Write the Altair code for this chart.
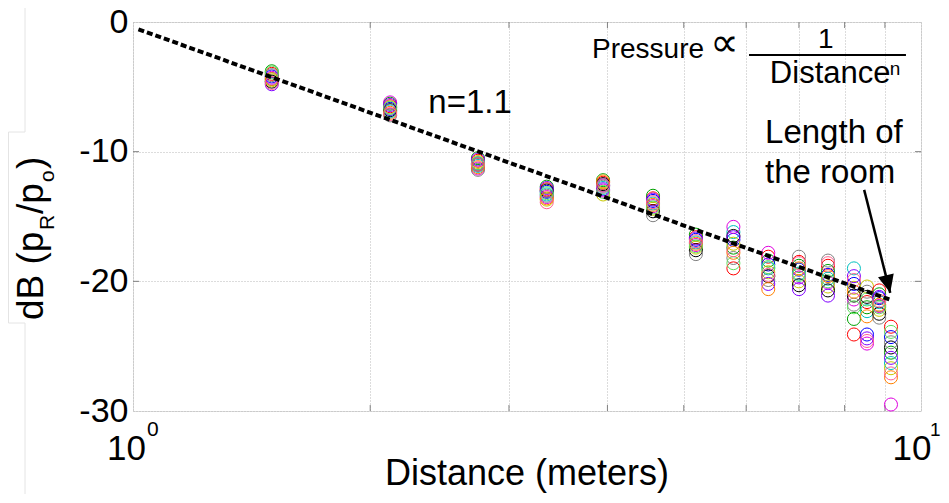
import altair as alt
import pandas as pd

# ---------------- data ----------------
distances = [1.5, 2.12, 2.74, 3.35, 3.95, 4.57, 5.18, 5.78, 6.40, 7.00, 7.62, 8.22, 8.54, 8.85, 9.16]

# one list per distance, one value per measurement run (12 runs)
db_values = [
    [-4.0, -3.8, -4.2, -4.4, -4.3, -4.5, -4.6, -4.1, -4.8, -4.4, -3.9, -4.7],
    [-6.5, -6.3, -6.7, -6.9, -6.2, -6.6, -6.8, -7.2, -6.4, -7.0, -6.6, -7.1],
    [-10.7, -10.5, -10.9, -11.1, -11.3, -10.8, -11.0, -11.4, -10.6, -11.2, -10.9, -11.0],
    [-12.9, -12.7, -13.1, -13.3, -13.5, -13.7, -13.0, -13.4, -12.8, -13.6, -13.2, -13.9],
    [-12.4, -12.2, -12.6, -12.8, -13.0, -13.3, -12.5, -12.7, -12.9, -12.3, -13.1, -12.6],
    [-13.6, -13.4, -13.8, -14.0, -14.2, -14.4, -14.6, -14.9, -13.7, -14.1, -14.3, -13.9],
    [-16.6, -16.4, -16.8, -17.0, -17.2, -17.4, -17.6, -17.9, -16.7, -17.1, -17.3, -16.9],
    [-19.0, -17.4, -16.8, -16.2, -15.8, -17.1, -16.5, -18.2, -16.6, -17.8, -18.6, -17.6],
    [-18.1, -18.4, -18.7, -19.0, -17.8, -19.3, -19.6, -19.9, -20.2, -20.6, -18.9, -19.5],
    [-18.5, -18.8, -19.1, -19.4, -19.7, -20.0, -20.3, -18.1, -20.6, -19.0, -19.5, -18.6],
    [-18.8, -19.2, -19.5, -19.8, -20.1, -20.4, -20.7, -18.4, -21.1, -19.6, -20.0, -18.6],
    [-24.1, -22.9, -20.2, -19.0, -21.4, -20.5, -21.1, -21.8, -19.6, -20.8, -22.0, -19.9],
    [-21.6, -22.0, -24.1, -22.3, -24.8, -20.4, -21.2, -20.8, -24.4, -22.7, -21.4, -24.6],
    [-20.7, -21.0, -21.3, -21.6, -21.9, -22.2, -22.5, -22.8, -21.2, -21.8, -22.0, -21.5],
    [-23.5, -25.5, -24.3, -26.3, -29.5, -26.7, -25.1, -24.7, -25.9, -27.4, -23.9, -27.1],
]

run_names = ["run %d" % (i + 1) for i in range(12)]
run_colors = ["#ff0000", "#00a000", "#0000ff", "#00c0c0", "#e000e0", "#c8c800",
              "#000000", "#808080", "#8000ff", "#ff8000", "#60e060", "#ff6090"]

# dashed fit line (n = 1.1), end points
fit_distance = [1.016, 9.15]
fit_db = [-0.56, -21.43]

# annotations (left edge, baseline) in data units
ann_text = ["n=1.1", "Pressure", "1", "Distance", "n", "Length of", "the room"]
ann_x = [2.37, 3.824, 7.40, 6.43, 9.13, 6.34, 6.34]
ann_y = [-7.0, -2.75, -2.0, -4.7, -4.05, -9.33, -12.41]
ann_size = [33, 28, 28, 31, 19, 33, 33]

prop_x = [5.40]
prop_y = [-2.6]

frac_bar_x = [6.05, 9.57]
frac_bar_y = [-2.55]

arrow_from = [8.47, -12.95]
arrow_to = [9.14, -20.89]

x_tick_values = [1, 2, 3, 4, 5, 6, 7, 8, 9, 10]
y_tick_values = [0, -10, -20, -30]
x_minor = [2, 3, 4, 5, 6, 7, 8, 9]
y_minor = [-10, -20]

FONT = "Liberation Sans"
W, H = 788, 389

# ---------------- build ----------------
rows = []
for d, vals in zip(distances, db_values):
    for r, v in zip(run_names, vals):
        rows.append({"distance": d, "db": v, "run": r})
pts = pd.DataFrame(rows)

xs = alt.Scale(type="log", domain=[1, 10], nice=False)
ys = alt.Scale(domain=[-30, 0], nice=False, zero=False)

grid_kw = dict(grid=True, gridDash=[1, 2], gridColor="#b8b8b8", gridWidth=1)

points = alt.Chart(pts).mark_point(shape="circle", filled=False, size=170, strokeWidth=1, opacity=1).encode(
    x=alt.X("distance:Q", scale=xs,
            axis=alt.Axis(values=x_tick_values, labels=False, ticks=False, domain=False, title=None, **grid_kw)),
    y=alt.Y("db:Q", scale=ys,
            axis=alt.Axis(values=y_tick_values, labelFontSize=34, labelFont=FONT, labelColor="black",
                          labelExpr="'' + datum.value", ticks=False, domain=False, title=None,
                          labelPadding=5, labelFlush=False, labelOverlap=False, **grid_kw)),
    color=alt.Color("run:N", scale=alt.Scale(domain=run_names, range=run_colors), legend=None),
)

fit = alt.Chart(pd.DataFrame({"distance": fit_distance, "db": fit_db})).mark_line(
    color="black", strokeDash=[6, 3], strokeWidth=4).encode(
    x=alt.X("distance:Q", scale=xs), y=alt.Y("db:Q", scale=ys))

ann = alt.Chart(pd.DataFrame({"t": ann_text, "x": ann_x, "y": ann_y, "s": ann_size})).mark_text(
    align="left", baseline="alphabetic", font=FONT, color="black").encode(
    x=alt.X("x:Q", scale=xs), y=alt.Y("y:Q", scale=ys), text="t:N", size=alt.Size("s:Q", scale=None))

prop = alt.Chart(pd.DataFrame({"x": prop_x, "y": prop_y})).mark_text(
    align="left", baseline="alphabetic", font="DejaVu Sans", fontSize=40, color="black").encode(
    x=alt.X("x:Q", scale=xs), y=alt.Y("y:Q", scale=ys), text=alt.value("\u221d"))

bar = alt.Chart(pd.DataFrame({"x": [frac_bar_x[0]], "x2": [frac_bar_x[1]], "y": frac_bar_y})).mark_rule(
    color="black", strokeWidth=2).encode(
    x=alt.X("x:Q", scale=xs), x2="x2:Q", y=alt.Y("y:Q", scale=ys))

arrow = alt.Chart(pd.DataFrame({"x": [arrow_from[0]], "y": [arrow_from[1]],
                                "x2": [arrow_to[0]], "y2": [arrow_to[1]]})).mark_rule(
    color="black", strokeWidth=2.5).encode(
    x=alt.X("x:Q", scale=xs), y=alt.Y("y:Q", scale=ys), x2="x2:Q", y2="y2:Q")

head = alt.Chart(pd.DataFrame({"x": [arrow_to[0]], "y": [arrow_to[1]]})).mark_point(
    shape="M0,0 L-0.45,-1 L0.45,-1 Z", size=1296, filled=True, color="black", opacity=1,
    strokeWidth=0, angle=346).encode(
    x=alt.X("x:Q", scale=xs), y=alt.Y("y:Q", scale=ys))

# x tick labels 10^0 and 10^1
xlab0 = alt.Chart(pd.DataFrame({"x": [1], "b": ["10"]})).mark_text(
    align="center", baseline="alphabetic", font=FONT, fontSize=35, dx=-6.5, color="black").encode(
    x=alt.X("x:Q", scale=xs), y=alt.value(438), text="b:N")
xlab1 = alt.Chart(pd.DataFrame({"x": [10], "b": ["10"]})).mark_text(
    align="center", baseline="alphabetic", font=FONT, fontSize=35, dx=-9, color="black").encode(
    x=alt.X("x:Q", scale=xs), y=alt.value(438), text="b:N")
xexp0 = alt.Chart(pd.DataFrame({"x": [1], "e": ["0"]})).mark_text(
    align="left", baseline="alphabetic", font=FONT, fontSize=21, dx=14, color="black").encode(
    x=alt.X("x:Q", scale=xs), y=alt.value(414), text="e:N")
xexp1 = alt.Chart(pd.DataFrame({"x": [10], "e": ["1"]})).mark_text(
    align="left", baseline="alphabetic", font=FONT, fontSize=19, dx=9, color="black").encode(
    x=alt.X("x:Q", scale=xs), y=alt.value(414), text="e:N")

one = pd.DataFrame({"a": [0]})
xtitle = alt.Chart(one).mark_text(align="center", baseline="alphabetic", font=FONT, fontSize=36,
                                  color="black").encode(
    x=alt.value(W / 2), y=alt.value(463), text=alt.value("Distance (meters)"))

# rotated y title with subscripts
yt_text = ["dB (p", "R", "/p", "o", ")"]
yt_start = [298, 208, 192, 160, 147]
yt_x = [-90, -79, -90, -79, -90]
yt_size = [37, 21, 37, 21, 37]
ytitle = alt.Chart(pd.DataFrame({"t": yt_text, "py": yt_start, "px": yt_x, "s": yt_size})).mark_text(
    align="left", baseline="alphabetic", angle=270, font=FONT, color="black").encode(
    x=alt.X("px:Q", scale=None), y=alt.Y("py:Q", scale=None), text="t:N",
    size=alt.Size("s:Q", scale=None))

# inward minor ticks on all four sides
tick_col = "#808080"
tb = alt.Chart(pd.DataFrame({"d": x_minor})).mark_rule(color=tick_col, strokeWidth=1).encode(
    x=alt.X("d:Q", scale=xs), y=alt.value(H), y2=alt.value(H - 6))
tt = alt.Chart(pd.DataFrame({"d": x_minor})).mark_rule(color=tick_col, strokeWidth=1).encode(
    x=alt.X("d:Q", scale=xs), y=alt.value(0), y2=alt.value(6))
tl = alt.Chart(pd.DataFrame({"v": y_minor})).mark_rule(color=tick_col, strokeWidth=1).encode(
    y=alt.Y("v:Q", scale=ys), x=alt.value(0), x2=alt.value(6))
tr = alt.Chart(pd.DataFrame({"v": y_minor})).mark_rule(color=tick_col, strokeWidth=1).encode(
    y=alt.Y("v:Q", scale=ys), x=alt.value(W), x2=alt.value(W - 6))

# faint frame around the y-axis title (as in the source image)
fc = "#e4e4e4"
f1 = alt.Chart(one).mark_rule(color=fc, strokeWidth=1).encode(x=alt.value(-108), y=alt.value(-14), y2=alt.value(110))
f2 = alt.Chart(one).mark_rule(color=fc, strokeWidth=1).encode(x=alt.value(-108), y=alt.value(301), y2=alt.value(475))
f3 = alt.Chart(one).mark_rule(color=fc, strokeWidth=1).encode(x=alt.value(-124.5), y=alt.value(110), y2=alt.value(301))
f4 = alt.Chart(one).mark_rule(color=fc, strokeWidth=1).encode(y=alt.value(110), x=alt.value(-124.5), x2=alt.value(-108))
f5 = alt.Chart(one).mark_rule(color=fc, strokeWidth=1).encode(y=alt.value(301), x=alt.value(-124.5), x2=alt.value(-108))

chart = alt.layer(
    f1, f2, f3, f4, f5, tb, tt, tl, tr, points, fit, ann, prop, bar, arrow, head,
    xlab0, xlab1, xexp0, xexp1, xtitle, ytitle
).properties(
    width=W, height=H,
    autosize=alt.AutoSizeParams(type="none"),
    padding={"left": 125, "top": 14, "right": 20, "bottom": 83},
).configure_view(stroke="#808080", strokeWidth=1).configure(background="white")

chart.save("out.html", embed_options={"renderer": "svg", "actions": False})
